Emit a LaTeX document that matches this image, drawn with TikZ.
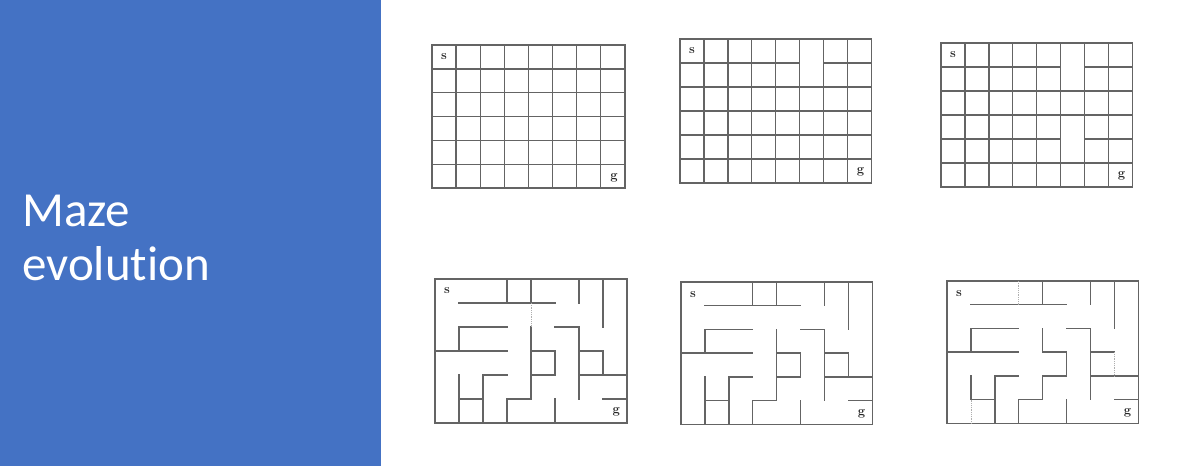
\documentclass[tikz,border=0pt]{standalone}
\usepackage{fontspec}
\newfontfamily\titlefont[Ligatures=NoCommon]{Carlito}
\definecolor{panelblue}{RGB}{68,114,196}
\definecolor{wallgray}{RGB}{100,100,100}
\definecolor{dotgray}{RGB}{175,175,175}
\tikzset{
  wall/.style={draw=wallgray, line width=1.4pt, line cap=rect},
  faint/.style={draw=dotgray, line width=0.8pt, densely dotted},
  celltext/.style={font=\fontsize{13}{13}\selectfont\bfseries, text=black!85, inner sep=0pt}
}
\newcommand{\mazewalls}{%
  \draw[wall] (0,0) rectangle (8,6);
  \draw[wall] (4,0)--(4,1); \draw[wall] (6,0)--(6,1); \draw[wall] (7,0)--(7,2);
  \draw[wall] (1,1)--(5,1);
  \draw[wall] (1,3)--(1,2)--(3,2);
  \draw[wall] (5,2)--(6,2)--(6,5);
  \draw[wall] (0,3)--(3,3);
  \draw[wall] (6,3)--(7,3);
  \draw[wall] (6,4)--(8,4);
  \draw[wall] (1,4)--(1,5)--(2,5);
  \draw[wall] (2,6)--(2,4)--(3,4);
  \draw[wall] (5,5)--(5,6);
  \draw[wall] (7,5)--(8,5);
}
\begin{document}
\begin{tikzpicture}[x=1pt,y=-1pt]
\useasboundingbox (0,0) rectangle (1180,466);
\fill[white] (0,0) rectangle (1180,466);
\fill[panelblue] (0,0) rectangle (381,466);
\node[anchor=base west, inner sep=0pt, text=white, align=left,
      font=\titlefont\fontsize{49}{54}\selectfont] (title) at (22,280) {Maze\\evolution};

% ---------- maze 1 ----------
\begin{scope}[xshift=432pt, yshift=-45pt, x=24.1pt, y=-23.85pt]
  \draw[wall] (0,0) rectangle (8,6);
  \foreach \i in {1,...,7} \draw[wall] (\i,0)--(\i,6);
  \foreach \j in {1,...,5} \draw[wall] (0,\j)--(8,\j);
  \node[celltext] (s1) at (0.5,0.5) {s};
  \node[celltext] (g1) at (7.55,5.55) {g};
\end{scope}

% ---------- maze 2 ----------
\begin{scope}[xshift=680pt, yshift=-39pt, x=23.9pt, y=-24pt]
  \draw[wall] (0,0) rectangle (8,6);
  \foreach \i in {1,...,7} \draw[wall] (\i,0)--(\i,6);
  \foreach \j in {2,...,5} \draw[wall] (0,\j)--(8,\j);
  \draw[wall] (0,1)--(5,1); \draw[wall] (6,1)--(8,1);
  \node[celltext] (s2) at (0.5,0.5) {s};
  \node[celltext] (g2) at (7.55,5.55) {g};
\end{scope}

% ---------- maze 3 ----------
\begin{scope}[xshift=941pt, yshift=-43pt, x=23.9pt, y=-24pt]
  \draw[wall] (0,0) rectangle (8,6);
  \foreach \i in {1,...,7} \draw[wall] (\i,0)--(\i,6);
  \foreach \j in {2,3,5} \draw[wall] (0,\j)--(8,\j);
  \draw[wall] (0,1)--(5,1); \draw[wall] (6,1)--(8,1);
  \draw[wall] (0,4)--(5,4); \draw[wall] (6,4)--(8,4);
  \node[celltext] (s3) at (0.5,0.5) {s};
  \node[celltext] (g3) at (7.55,5.55) {g};
\end{scope}

% ---------- maze 4 ----------
\begin{scope}[xshift=435pt, yshift=-279pt, x=24pt, y=-24pt]
  \mazewalls
  \draw[wall] (3,0)--(3,1);
  \draw[wall] (4,2)--(4,5)--(3,5)--(3,6);
  \draw[wall] (4,3)--(5,3)--(5,4)--(4,4);
  \draw[wall] (7,3)--(7,4);
  \draw[wall] (1,5)--(1,6);
  \draw[faint] (4,1)--(4,2);
  \node[celltext] (s4) at (0.5,0.5) {s};
  \node[celltext] (g4) at (7.55,5.55) {g};
\end{scope}

% ---------- maze 5 ----------
\begin{scope}[xshift=681pt, yshift=-282pt, x=23.9pt, y=-23.7pt]
  \mazewalls
  \draw[wall] (3,0)--(3,1);
  \draw[wall] (4,2)--(4,5)--(3,5)--(3,6);
  \draw[wall] (4,3)--(5,3)--(5,4)--(4,4);
  \draw[wall] (7,3)--(7,4);
  \draw[wall] (1,5)--(1,6);
  \node[celltext] (s5) at (0.5,0.55) {s};
  \node[celltext] (g5) at (7.55,5.55) {g};
\end{scope}

% ---------- maze 6 ----------
\begin{scope}[xshift=947pt, yshift=-281pt, x=23.9pt, y=-23.7pt]
  \mazewalls
  \draw[faint] (3,0)--(3,1);
  \draw[wall] (4,2)--(4,3)--(5,3)--(5,4)--(4,4)--(4,5)--(3,5)--(3,6);
  \draw[faint] (7,3)--(7,4);
  \draw[faint] (1,5)--(1,6);
  \node[celltext] (s6) at (0.5,0.55) {s};
  \node[celltext] (g6) at (7.55,5.55) {g};
\end{scope}
\end{tikzpicture}
\end{document}
